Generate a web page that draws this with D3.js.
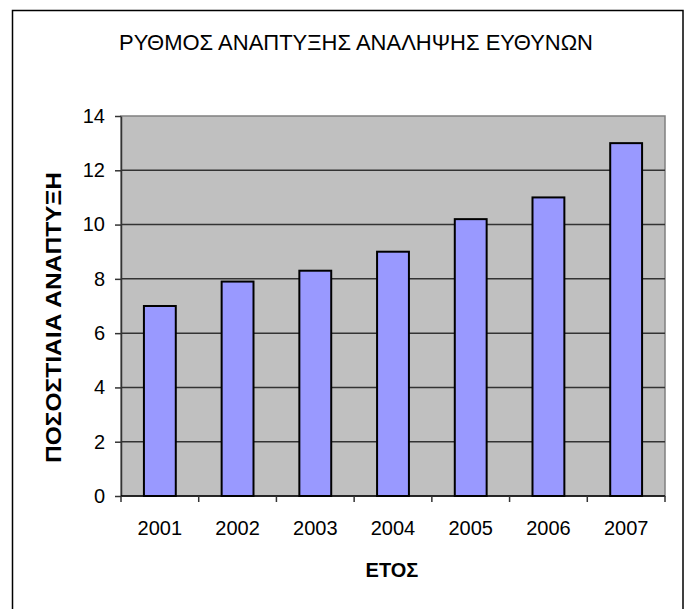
<!DOCTYPE html>
<html>
<head>
<meta charset="utf-8">
<script src="https://cdn.jsdelivr.net/npm/d3@7"></script>
<style>
  html, body { margin: 0; padding: 0; background: #fff; }
  svg { display: block; }
  text { font-family: Arial, "Liberation Sans", sans-serif; fill: #000; }
</style>
</head>
<body>
<svg id="chart" width="689" height="609"></svg>
<script>
const categories = ["2001", "2002", "2003", "2004", "2005", "2006", "2007"];
const values = [7, 7.9, 8.3, 9, 10.2, 11, 13];
const yTicks = [0, 2, 4, 6, 8, 10, 12, 14];
const titleText = "ΡΥΘΜΟΣ ΑΝΑΠΤΥΞΗΣ ΑΝΑΛΗΨΗΣ ΕΥΘΥΝΩΝ";
const yLabelText = "ΠΟΣΟΣΤΙΑΙΑ ΑΝΑΠΤΥΞΗ";
const xLabelText = "ΕΤΟΣ";

const svg = d3.select("#chart");
const plot = { left: 121, right: 665, top: 116, bottom: 496 };

// outer chart border
svg.append("rect")
  .attr("x", 12.5).attr("y", 10.5)
  .attr("width", 683 - 12.5).attr("height", 640)
  .attr("fill", "#fff").attr("stroke", "#000").attr("stroke-width", 1.5);

const x = d3.scaleBand().domain(categories)
  .range([plot.left, plot.right]).paddingInner(0.59).paddingOuter(0.295);
const y = d3.scaleLinear().domain([0, 14]).range([plot.bottom, plot.top]);

// plot area
svg.append("rect")
  .attr("x", plot.left).attr("y", plot.top)
  .attr("width", plot.right - plot.left).attr("height", plot.bottom - plot.top)
  .attr("fill", "#C0C0C0").attr("stroke", "#808080").attr("stroke-width", 1.5);

// gridlines
svg.append("g").selectAll("line")
  .data(yTicks.filter(d => d > 0 && d < 14))
  .join("line")
  .attr("x1", plot.left).attr("x2", plot.right)
  .attr("y1", d => y(d)).attr("y2", d => y(d))
  .attr("stroke", "#333").attr("stroke-width", 1.5);

// bars
svg.append("g").selectAll("rect")
  .data(values)
  .join("rect")
  .attr("x", (d, i) => x(categories[i]))
  .attr("y", d => y(d))
  .attr("width", x.bandwidth())
  .attr("height", d => y(0) - y(d))
  .attr("fill", "#9999FF").attr("stroke", "#000").attr("stroke-width", 2);

// y axis
const yAxis = d3.axisLeft(y).tickValues(yTicks).tickSize(6).tickPadding(10).tickSizeOuter(0);
const gy = svg.append("g").attr("transform", `translate(${plot.left},0)`).call(yAxis);
gy.select(".domain").attr("stroke", "#333").attr("stroke-width", 1.5);
gy.selectAll(".tick line").attr("stroke", "#333").attr("stroke-width", 1.5);
gy.selectAll(".tick text").attr("font-size", 20).attr("font-family", "Arial, 'Liberation Sans', sans-serif");

// x axis: line + boundary ticks + centered labels
const boundaries = d3.range(categories.length + 1).map(i => plot.left + i * (plot.right - plot.left) / categories.length);
svg.append("line")
  .attr("x1", plot.left).attr("x2", plot.right)
  .attr("y1", plot.bottom).attr("y2", plot.bottom)
  .attr("stroke", "#000").attr("stroke-width", 1.5);
svg.append("g").selectAll("line").data(boundaries).join("line")
  .attr("x1", d => d).attr("x2", d => d)
  .attr("y1", plot.bottom).attr("y2", plot.bottom + 6)
  .attr("stroke", "#333").attr("stroke-width", 1.5);
svg.append("g").selectAll("text").data(categories).join("text")
  .attr("x", d => x(d) + x.bandwidth() / 2)
  .attr("y", 535)
  .attr("text-anchor", "middle")
  .attr("font-size", 20)
  .text(d => d);

// title
svg.append("text")
  .attr("x", 119).attr("y", 50)
  .attr("font-size", 22)
  .attr("textLength", 474).attr("lengthAdjust", "spacingAndGlyphs")
  .text(titleText);

// y label
svg.append("text")
  .attr("transform", "translate(61,463) rotate(-90)")
  .attr("font-size", 22).attr("font-weight", "bold")
  .attr("textLength", 291).attr("lengthAdjust", "spacingAndGlyphs")
  .text(yLabelText);

// x label
svg.append("text")
  .attr("x", 392).attr("y", 577)
  .attr("text-anchor", "middle")
  .attr("font-size", 20).attr("font-weight", "bold")
  .text(xLabelText);
</script>
</body>
</html>
